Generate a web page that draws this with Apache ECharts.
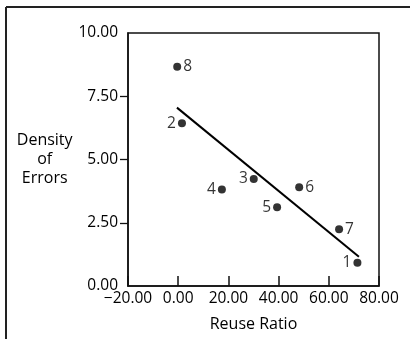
<!DOCTYPE html>
<html>
<head>
<meta charset="utf-8">
<style>
  html, body { margin: 0; padding: 0; background: #fff; }
  #chart { width: 410px; height: 339px; }
</style>
<script src="https://cdn.jsdelivr.net/npm/echarts@6/dist/echarts.min.js"></script>
</head>
<body>
<div id="chart"></div>
<script>
// Project ids and their measurements
const projectIds = ['1', '2', '3', '4', '5', '6', '7', '8'];
const reuseRatio = [71.4, 1.5, 30.1, 17.4, 39.4, 48.2, 64.1, -0.4];
const errorDensity = [0.92, 6.43, 4.23, 3.81, 3.11, 3.90, 2.24, 8.67];
const labelSide = ['left', 'left', 'left', 'left', 'left', 'right', 'right', 'right'];

// Fitted trend line endpoints
const trendX = [-0.5, 72.0];
const trendY = [7.05, 1.16];

// Axis ranges and the interior y tick positions
const xRange = { min: -20, max: 80, step: 20 };
const yRange = { min: 0, max: 10, step: 2.5 };
const yInnerTicks = [2.5, 5, 7.5];

const FONT = 'Open Sans';
const INK = '#000';
const LINE = '#111';

const points = reuseRatio.map((x, i) => ({
  value: [x, errorDensity[i]],
  name: projectIds[i],
  label: { position: labelSide[i] }
}));

const chart = echarts.init(document.getElementById('chart'), null, { renderer: 'canvas' });

chart.setOption({
  animation: false,
  backgroundColor: '#fff',
  textStyle: { fontFamily: FONT, color: INK },
  grid: {
    left: 128, top: 33, right: 31, bottom: 53,
    show: true, borderColor: LINE, borderWidth: 1.5, backgroundColor: 'transparent'
  },
  xAxis: {
    type: 'value',
    min: xRange.min, max: xRange.max, interval: xRange.step,
    name: 'Reuse Ratio',
    nameLocation: 'middle',
    nameGap: 30,
    nameTextStyle: { fontFamily: FONT, fontSize: 16, color: INK },
    axisLine: { show: true, onZero: false, lineStyle: { color: LINE, width: 1.5 } },
    axisTick: {
      show: true, inside: true, length: 10,
      lineStyle: { color: LINE, width: 1.5 }
    },
    axisLabel: {
      fontFamily: FONT, fontSize: 15.5, color: INK, margin: 5,
      formatter: v => (v < 0 ? '\u2212' : '') + Math.abs(v).toFixed(2)
    },
    splitLine: { show: false }
  },
  yAxis: {
    type: 'value',
    min: yRange.min, max: yRange.max, interval: yRange.step,
    name: 'Density\nof\nErrors',
    nameLocation: 'middle',
    nameRotate: 0,
    nameGap: 75,
    nameTextStyle: {
      fontFamily: FONT, fontSize: 16, color: INK,
      align: 'center', verticalAlign: 'middle', lineHeight: 19
    },
    axisLine: { show: true, onZero: false, lineStyle: { color: LINE, width: 1.5 } },
    axisTick: {
      show: true, inside: false, length: 8, customValues: yInnerTicks,
      lineStyle: { color: LINE, width: 1.3 }
    },
    axisLabel: {
      fontFamily: FONT, fontSize: 15.5, color: INK, margin: 10,
      formatter: v => v.toFixed(2)
    },
    splitLine: { show: false }
  },
  graphic: [
    // frame lines along the top and left edges
    { type: 'line', shape: { x1: 6, y1: 7, x2: 410, y2: 7 }, style: { stroke: '#222', lineWidth: 2 } },
    { type: 'line', shape: { x1: 6, y1: 7, x2: 6, y2: 339 }, style: { stroke: '#222', lineWidth: 2 } }
  ],
  series: [
    {
      type: 'line',
      data: trendX.map((x, i) => [x, trendY[i]]),
      showSymbol: false,
      symbol: 'none',
      lineStyle: { color: INK, width: 2 },
      silent: true,
      z: 2
    },
    {
      type: 'scatter',
      data: points,
      symbol: 'circle',
      symbolSize: 8,
      itemStyle: { color: INK },
      label: {
        show: true,
        formatter: p => p.name,
        fontFamily: FONT, fontSize: 15.5, color: INK,
        distance: 2
      },
      z: 3
    }
  ]
});
</script>
</body>
</html>
